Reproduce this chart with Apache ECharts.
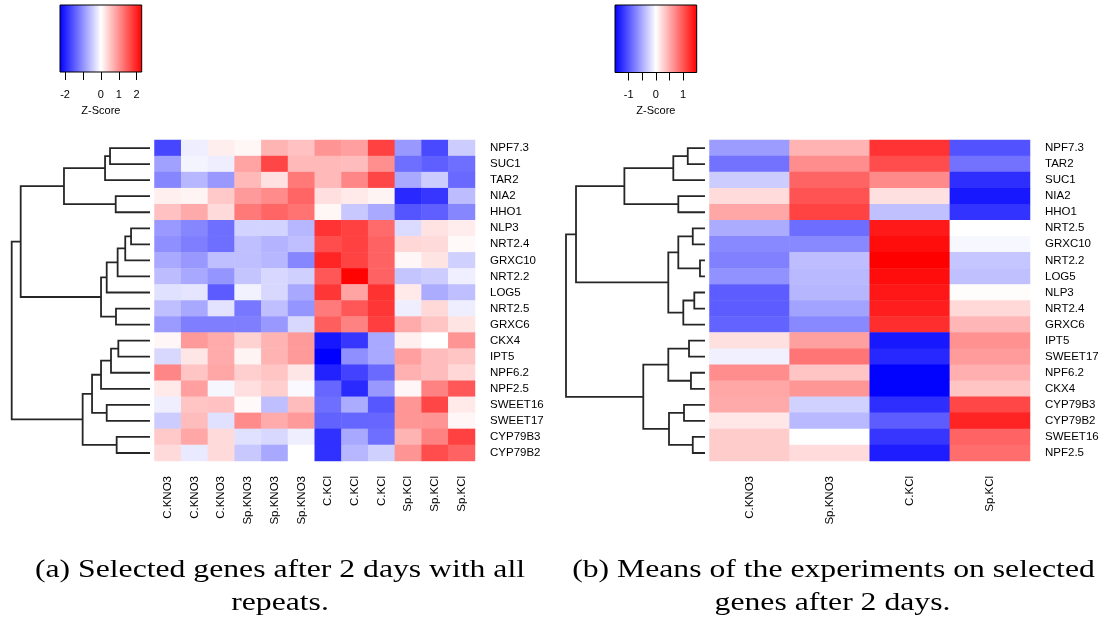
<!DOCTYPE html>
<html>
<head>
<meta charset="utf-8">
<script src="https://cdn.jsdelivr.net/npm/echarts@6/dist/echarts.min.js"></script>
<style>
  html, body { margin: 0; padding: 0; background: #ffffff; }
  #chart { width: 1106px; height: 623px; }
</style>
</head>
<body>
<div id="chart"></div>
<script>
// ---------- (a) all repeats ----------
const rowsA = ['NPF7.3','SUC1','TAR2','NIA2','HHO1','NLP3','NRT2.4','GRXC10','NRT2.2','LOG5',
               'NRT2.5','GRXC6','CKX4','IPT5','NPF6.2','NPF2.5','SWEET16','SWEET17','CYP79B3','CYP79B2'];
const colsA = ['C.KNO3','C.KNO3','C.KNO3','Sp.KNO3','Sp.KNO3','Sp.KNO3',
               'C.KCl','C.KCl','C.KCl','Sp.KCl','Sp.KCl','Sp.KCl'];
// z-scores, one row per gene (order of rowsA), one column per sample (order of colsA)
const valuesA = [
  [-1.65,-0.15, 0.15, 0.08, 0.67, 0.55, 0.96, 0.86, 1.70,-0.92,-1.63,-0.46],
  [-0.85,-0.10,-0.15, 0.82, 1.65, 0.63, 0.63, 0.60, 1.00,-1.29,-1.43,-1.29],
  [-1.08,-0.64,-0.92, 0.63, 0.27, 1.20, 0.63, 1.08, 1.65,-0.77,-0.46,-1.34],
  [ 0.14, 0.10, 0.48, 0.90, 1.04, 1.38, 0.29, 0.20, 0.10,-1.92,-1.80,-0.60],
  [ 0.55, 0.76, 0.33, 1.20, 1.38, 1.25, 0.08,-0.49,-0.77,-1.52,-1.43,-1.08],
  [-0.91,-1.08,-1.29,-0.39,-0.39,-0.64, 1.82, 1.70, 1.33,-0.32, 0.25, 0.17],
  [-1.00,-1.15,-1.29,-0.57,-0.68,-0.57, 1.60, 1.70, 1.40, 0.36, 0.33, 0.05],
  [-0.77,-0.92,-0.57,-0.57,-0.64,-1.08, 1.95, 1.68, 1.40, 0.07, 0.24,-0.42],
  [-0.60,-0.78,-0.95,-0.53,-0.35,-0.42, 1.50, 2.25, 1.40,-0.53,-0.46,-0.14],
  [-0.28,-0.23,-1.47,-0.12,-0.35,-0.78, 1.80, 0.82, 1.83, 0.20,-0.74,-0.57],
  [-0.57,-0.78,-0.25,-1.22,-0.57,-0.95, 1.18, 1.50, 1.80,-0.15, 0.35,-0.15],
  [-0.90,-1.15,-1.15,-1.15,-0.92,-0.35, 1.44, 1.12, 1.72, 0.75, 0.52, 0.24],
  [ 0.07, 0.90, 0.75, 0.40, 0.67, 0.90,-2.07,-1.80,-0.77, 0.14, 0.00, 0.96],
  [-0.35, 0.22, 0.75, 0.10, 0.67, 0.90,-2.28,-1.00,-0.77, 0.86, 0.60, 0.52],
  [ 1.08, 0.52, 0.80, 0.44, 0.52, 0.22,-1.98,-1.68,-1.33, 0.70, 0.60, 0.36],
  [ 0.20, 0.86,-0.08, 0.29, 0.44,-0.05,-1.36,-1.90,-0.92, 0.07, 1.12, 1.50],
  [-0.15, 0.52, 0.55, 0.05,-0.57, 0.60,-1.29,-0.74,-1.50, 0.94, 1.65, 0.20],
  [-0.46, 0.60,-0.28, 1.04, 0.75, 0.90,-1.40,-1.38,-1.36, 0.94, 0.96, 0.07],
  [ 0.48, 0.80, 0.33,-0.28,-0.35,-0.15,-1.85,-0.78,-1.29, 0.67, 1.12, 1.70],
  [ 0.33,-0.20, 0.33,-0.49,-0.78, 0.00,-1.85,-0.64,-0.42, 0.96, 1.60, 1.40]
];
// row clustering: [left, right, merge height]
const treeA = [
  [
    [[['NPF7.3','SUC1',2.89],'TAR2',3.25], ['NIA2','HHO1',2.48], 6.22],
    [[[[['NLP3','NRT2.4',1.37],'GRXC10',1.79],'NRT2.2',2.34],'LOG5',3.13], ['NRT2.5','GRXC6',2.46], 3.54],
    9.35
  ],
  [
    [[[['CKX4','IPT5',2.29],'NPF6.2',2.82],'NPF2.5',3.54], ['SWEET16','SWEET17',3.13], 4.19],
    ['CYP79B3','CYP79B2',2.41],
    4.87
  ],
  10
];
const keyRangeA = [-2.28, 2.28];
const keyTicksA = [-2, -1, 0, 1, 2];
const keyLabelsA = [-2, 0, 1, 2];
const captionA = ['(a) Selected genes after 2 days with all', 'repeats.'];

// ---------- (b) means ----------
const rowsB = ['NPF7.3','TAR2','SUC1','NIA2','HHO1','NRT2.5','GRXC10','NRT2.2','LOG5','NLP3',
               'NRT2.4','GRXC6','IPT5','SWEET17','NPF6.2','CKX4','CYP79B3','CYP79B2','SWEET16','NPF2.5'];
const colsB = ['C.KNO3','Sp.KNO3','C.KCl','Sp.KCl'];
const valuesB = [
  [-0.58, 0.45, 1.20,-1.02],
  [-0.83, 0.67, 1.05,-0.83],
  [-0.30, 0.91, 0.69,-1.23],
  [ 0.21, 1.02, 0.18,-1.36],
  [ 0.52, 1.11,-0.37,-1.20],
  [-0.49,-0.86, 1.35, 0.00],
  [-0.70,-0.70, 1.43,-0.05],
  [-0.74,-0.39, 1.50,-0.34],
  [-0.65,-0.41, 1.43,-0.37],
  [-0.96,-0.43, 1.37, 0.02],
  [-0.96,-0.55, 1.33, 0.23],
  [-0.92,-0.70, 1.23, 0.43],
  [ 0.18, 0.56,-1.36, 0.65],
  [-0.09, 0.82,-1.27, 0.59],
  [ 0.67, 0.35,-1.49, 0.47],
  [ 0.52, 0.62,-1.49, 0.35],
  [ 0.50,-0.27,-1.23, 1.08],
  [ 0.14,-0.41,-0.96, 1.29],
  [ 0.30, 0.00,-1.18, 0.92],
  [ 0.30, 0.21,-1.33, 0.86]
];
const treeB = [
  [
    [[['NPF7.3','TAR2',1.24],'SUC1',2.28], ['NIA2','HHO1',1.92], 5.80],
    [[['NRT2.5','GRXC10',0.88], ['NRT2.2','LOG5',0.36], 1.92], [['NLP3','NRT2.4',0.77],'GRXC6',1.56], 2.64],
    9.28
  ],
  [
    [['IPT5','SWEET17',1.15], ['NPF6.2','CKX4',1.01], 2.64],
    [['CYP79B3','CYP79B2',1.51], ['SWEET16','NPF2.5',0.88], 2.59],
    4.44
  ],
  10
];
const keyRangeB = [-1.5, 1.5];
const keyTicksB = [-1, -0.5, 0, 0.5, 1];
const keyLabelsB = [-1, 0, 1];
const captionB = ['(b) Means of the experiments on selected', 'genes after 2 days.'];

// ---------- helpers ----------
const SANS = '"Liberation Sans", Arial, sans-serif';
const RAMP = ['#0000ff', '#ffffff', '#ff0000'];

function cells(values) {
  const out = [];
  values.forEach((row, r) => row.forEach((v, c) => out.push([c, r, v])));
  return out;
}

// walk the merge tree and emit one bracket per merge (child -> merge height -> other child)
function dendroSegments(tree, order) {
  const segs = [];
  function walk(node) {
    if (typeof node === 'string') return { y: order.indexOf(node), h: 0 };
    const a = walk(node[0]);
    const b = walk(node[1]);
    const h = node[2];
    segs.push({ coords: [[a.h, a.y], [h, a.y], [h, b.y], [b.h, b.y]] });
    return { y: (a.y + b.y) / 2, h: h };
  }
  walk(tree);
  return segs;
}

function keyRenderer(range) {
  return function (params, api) {
    const p0 = api.coord([range[0], 1]);
    const p1 = api.coord([range[1], 0]);
    return {
      type: 'rect',
      shape: { x: p0[0], y: p0[1], width: p1[0] - p0[0], height: p1[1] - p0[1] },
      style: {
        fill: new echarts.graphic.LinearGradient(0, 0, 1, 0, [
          { offset: 0, color: RAMP[0] },
          { offset: 0.5, color: RAMP[1] },
          { offset: 1, color: RAMP[2] }
        ]),
        stroke: '#000', lineWidth: 1
      }
    };
  };
}

const G = { containLabel: false, outerBoundsMode: 'none' };
const TOP = 140, HEIGHT = 321;

const grids = [
  Object.assign({ left: 11.7, top: TOP, width: 138.3, height: HEIGHT }, G),   // dendrogram a
  Object.assign({ left: 154.5, top: TOP, width: 320.5, height: HEIGHT }, G),  // heatmap a
  Object.assign({ left: 566, top: TOP, width: 139, height: HEIGHT }, G),      // dendrogram b
  Object.assign({ left: 709.5, top: TOP, width: 320.5, height: HEIGHT }, G),  // heatmap b
  Object.assign({ left: 60, top: 5, width: 81.7, height: 67 }, G),            // key a
  Object.assign({ left: 615, top: 5, width: 81.7, height: 67.5 }, G)          // key b
];

function dendroX(gi) {
  return { gridIndex: gi, type: 'value', min: 0, max: 10, inverse: true, show: false };
}
function dendroY(gi) {
  return { gridIndex: gi, type: 'value', min: -0.5, max: 19.5, inverse: true, show: false };
}
function heatX(gi, cols) {
  return {
    gridIndex: gi, type: 'category', data: cols, position: 'bottom',
    axisLine: { show: false }, axisTick: { show: false }, splitLine: { show: false },
    axisLabel: { rotate: 90, margin: 15, fontFamily: SANS, fontSize: 11.5, color: '#000', interval: 0 }
  };
}
function heatY(gi, rows) {
  return {
    gridIndex: gi, type: 'category', data: rows, inverse: true, position: 'right',
    axisLine: { show: false }, axisTick: { show: false }, splitLine: { show: false },
    axisLabel: { margin: 15, fontFamily: SANS, fontSize: 11.5, color: '#000', interval: 0 }
  };
}
function keyX(gi, range, ticks, labels) {
  return {
    gridIndex: gi, type: 'value', min: range[0], max: range[1], position: 'bottom',
    name: 'Z-Score', nameLocation: 'middle', nameGap: 33,
    nameTextStyle: { fontFamily: SANS, fontSize: 11, color: '#000' },
    axisLine: { show: false }, splitLine: { show: false },
    axisTick: { show: true, customValues: ticks, length: 8, inside: false, lineStyle: { color: '#000', width: 1 } },
    axisLabel: { customValues: labels, margin: 17, fontFamily: SANS, fontSize: 11, color: '#000',
                 formatter: v => String(v) }
  };
}
function keyY(gi) {
  return { gridIndex: gi, type: 'value', min: 0, max: 1, show: false };
}

const dendroStyle = { color: '#262626', width: 1.8, opacity: 1 };

// captions: serif text widened to a book-like set width
const measureCtx = document.createElement('canvas').getContext('2d');
const CAP_FONT_SIZE = 26;
const CAP_FONT = CAP_FONT_SIZE + 'px "Liberation Serif", "Times New Roman", serif';
measureCtx.font = CAP_FONT;
const capScale = 490 / measureCtx.measureText(captionA[0]).width;

function captionText(txt, cx, cy) {
  return {
    type: 'text', x: cx, y: cy, scaleX: capScale, silent: true,
    style: { text: txt, font: CAP_FONT, fill: '#000', align: 'center', verticalAlign: 'middle',
             textAlign: 'center', textVerticalAlign: 'middle' }
  };
}

const option = {
  backgroundColor: '#ffffff',
  animation: false,
  grid: grids,
  xAxis: [dendroX(0), heatX(1, colsA), dendroX(2), heatX(3, colsB),
          keyX(4, keyRangeA, keyTicksA, keyLabelsA), keyX(5, keyRangeB, keyTicksB, keyLabelsB)],
  yAxis: [dendroY(0), heatY(1, rowsA), dendroY(2), heatY(3, rowsB), keyY(4), keyY(5)],
  visualMap: [
    { type: 'continuous', show: false, seriesIndex: 1, min: keyRangeA[0], max: keyRangeA[1],
      inRange: { color: RAMP } },
    { type: 'continuous', show: false, seriesIndex: 3, min: keyRangeB[0], max: keyRangeB[1],
      inRange: { color: RAMP } }
  ],
  series: [
    { type: 'lines', coordinateSystem: 'cartesian2d', xAxisIndex: 0, yAxisIndex: 0, polyline: true,
      silent: true, lineStyle: dendroStyle, data: dendroSegments(treeA, rowsA) },
    { type: 'heatmap', xAxisIndex: 1, yAxisIndex: 1, data: cells(valuesA), silent: true,
      progressive: 0, emphasis: { disabled: true } },
    { type: 'lines', coordinateSystem: 'cartesian2d', xAxisIndex: 2, yAxisIndex: 2, polyline: true,
      silent: true, lineStyle: dendroStyle, data: dendroSegments(treeB, rowsB) },
    { type: 'heatmap', xAxisIndex: 3, yAxisIndex: 3, data: cells(valuesB), silent: true,
      progressive: 0, emphasis: { disabled: true } },
    { type: 'custom', xAxisIndex: 4, yAxisIndex: 4, silent: true, data: [[keyRangeA[0], keyRangeA[1]]],
      renderItem: keyRenderer(keyRangeA) },
    { type: 'custom', xAxisIndex: 5, yAxisIndex: 5, silent: true, data: [[keyRangeB[0], keyRangeB[1]]],
      renderItem: keyRenderer(keyRangeB) }
  ],
  graphic: [
    captionText(captionA[0], 280, 570),
    captionText(captionA[1], 280, 603),
    captionText(captionB[0], 833.5, 570),
    captionText(captionB[1], 832.5, 603)
  ]
};

const chart = echarts.init(document.getElementById('chart'), null, { renderer: 'canvas' });
chart.setOption(option);
</script>
</body>
</html>
